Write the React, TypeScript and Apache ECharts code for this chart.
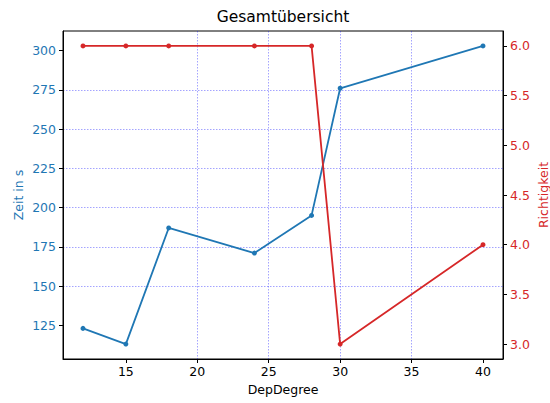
import React, { useEffect, useRef } from "react";
import * as echarts from "echarts";

const depDegree = [12, 15, 18, 24, 28, 30, 40];
const zeit = [123, 113, 187, 171, 195, 276, 303];
const richtigkeit = [6, 6, 6, 6, 6, 3, 4];
const xTicks = [15, 20, 25, 30, 35, 40];
const leftTicks = [125, 150, 175, 200, 225, 250, 275, 300];
const rightTicks = [3.0, 3.5, 4.0, 4.5, 5.0, 5.5, 6.0];

const BLUE = "#1f77b4";
const RED = "#d62728";
const FONT = "DejaVu Sans";
const GRID_LINE = { show: true, showMinLine: false, showMaxLine: false, lineStyle: { color: "rgba(0,0,255,0.45)", type: [1.5, 1.5], width: 0.8 } };

export default function App() {
  const ref = useRef<HTMLDivElement>(null);
  useEffect(() => {
    const chart = echarts.init(ref.current!, null, { renderer: "svg" });
    chart.setOption({
      animation: false,
      backgroundColor: "#fff",
      textStyle: { fontFamily: FONT },
      grid: { left: 63, right: 47, top: 31, bottom: 44, containLabel: false, outerBoundsMode: "none", show: true, borderColor: "#000", borderWidth: 1, backgroundColor: "transparent" },
      graphic: [
        { type: "text", x: 283, y: 17, style: { text: "Gesamtübersicht", fontFamily: FONT, fontSize: 15.5, fill: "#000", textAlign: "center", textVerticalAlign: "middle" } },
      ],
      xAxis: {
        type: "value",
        min: 10.6,
        max: 41.4,
        minInterval: 5,
        maxInterval: 5,
        name: "DepDegree",
        nameLocation: "middle",
        nameGap: 24,
        nameMoveOverlap: false,
        nameTextStyle: { fontFamily: FONT, fontSize: 12.5, color: "#000" },
        axisLine: { show: true, lineStyle: { color: "#000", width: 1 } },
        axisTick: { show: true, length: 4, customValues: xTicks, lineStyle: { color: "#000" } },
        axisLabel: { customValues: xTicks, margin: 6, fontFamily: FONT, fontSize: 12.5, color: "#000" },
        splitLine: GRID_LINE,
      },
      yAxis: [
        {
          type: "value",
          position: "left",
          min: 103.5,
          max: 312.5,
          minInterval: 25,
          maxInterval: 25,
          name: "Zeit in s",
          nameLocation: "middle",
          nameGap: 38,
          nameMoveOverlap: false,
          nameTextStyle: { fontFamily: FONT, fontSize: 12.5, color: BLUE },
          axisLine: { show: true, lineStyle: { color: "#000", width: 1 } },
          axisTick: { show: true, length: 4, customValues: leftTicks, lineStyle: { color: "#000" } },
          axisLabel: { customValues: leftTicks, margin: 7, fontFamily: FONT, fontSize: 12.5, color: BLUE },
          splitLine: GRID_LINE,
        },
        {
          type: "value",
          position: "right",
          min: 2.85,
          max: 6.15,
          name: "Richtigkeit",
          nameLocation: "middle",
          nameGap: 34,
          nameMoveOverlap: false,
          nameTextStyle: { fontFamily: FONT, fontSize: 12.5, color: RED },
          axisLine: { show: true, lineStyle: { color: "#000", width: 1 } },
          axisTick: { show: true, length: 4, customValues: rightTicks, lineStyle: { color: "#000" } },
          axisLabel: { customValues: rightTicks, margin: 7, fontFamily: FONT, fontSize: 12.5, color: RED, formatter: (v: number) => v.toFixed(1) },
          splitLine: { show: false },
        },
      ],
      series: [
        {
          type: "line",
          yAxisIndex: 0,
          data: depDegree.map((x, i) => [x, zeit[i]]),
          color: BLUE,
          lineStyle: { width: 1.8, color: BLUE },
          symbol: "circle",
          symbolSize: 5,
          itemStyle: { color: BLUE },
        },
        {
          type: "line",
          yAxisIndex: 1,
          data: depDegree.map((x, i) => [x, richtigkeit[i]]),
          color: RED,
          lineStyle: { width: 1.8, color: RED },
          symbol: "circle",
          symbolSize: 5,
          itemStyle: { color: RED },
        },
      ],
    });
    return () => chart.dispose();
  }, []);
  return <div ref={ref} style={{ width: 550, height: 403, position: "absolute", left: 0, top: 0 }} />;
}
